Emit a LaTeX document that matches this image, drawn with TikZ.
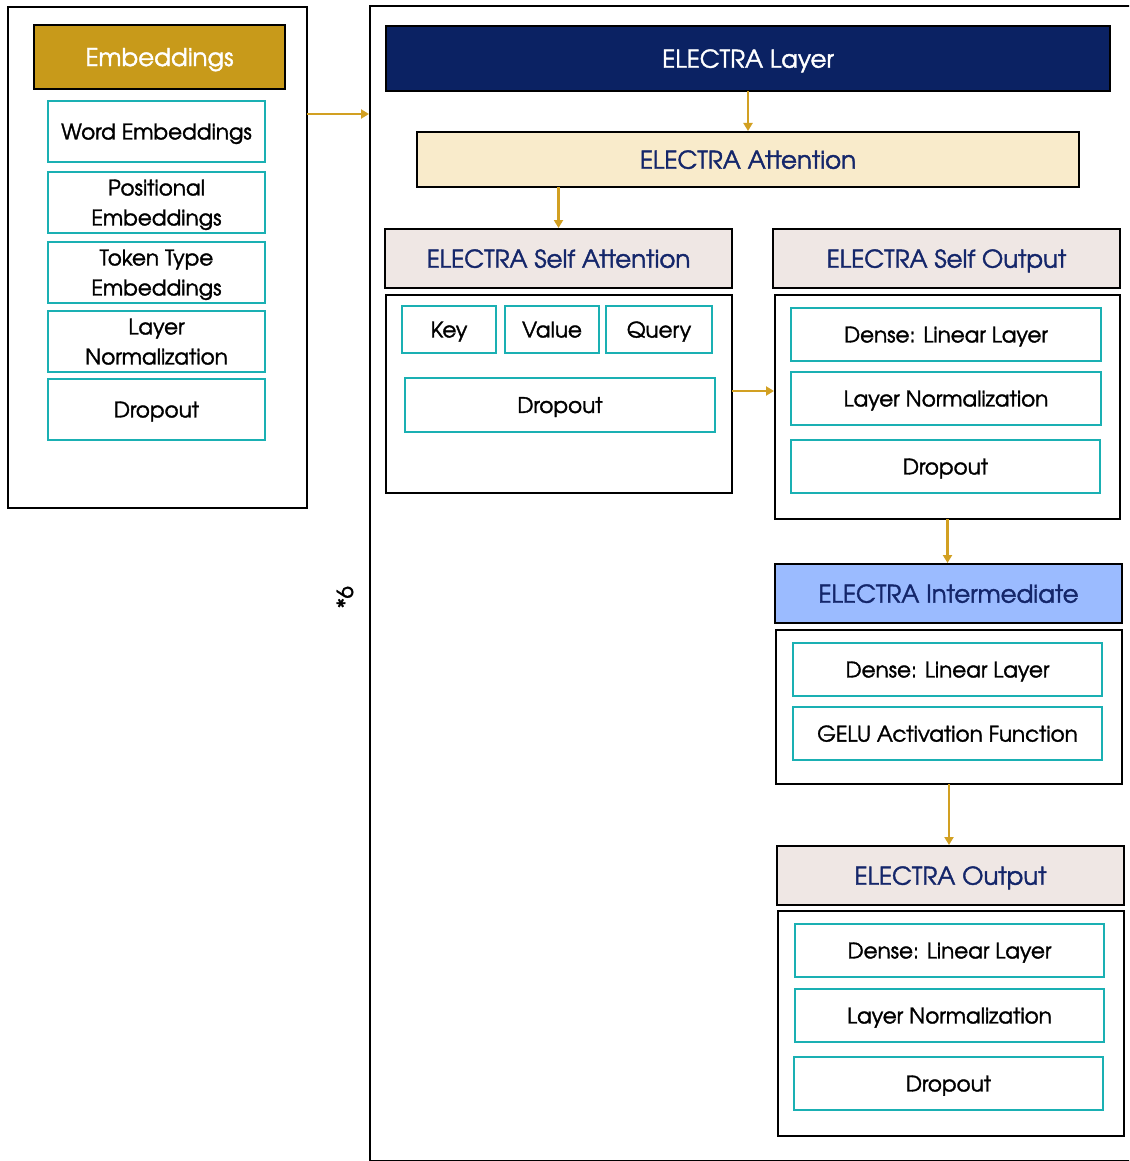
\documentclass[tikz,border=0pt]{standalone}
\usepackage{fontspec}
\setmainfont{TeX Gyre Adventor}[FakeBold=1.6]
\usetikzlibrary{arrows.meta,calc}
\definecolor{gold}{HTML}{C89A1A}
\definecolor{arrgold}{HTML}{D2A022}
\definecolor{navy}{HTML}{0B2263}
\definecolor{navytext}{HTML}{14266A}
\definecolor{cream}{HTML}{F9EBCB}
\definecolor{hdrgrey}{HTML}{EFE7E4}
\definecolor{ltblue}{HTML}{9BBBFF}
\definecolor{teal}{HTML}{1AB0B3}
\newcommand\bx[7]{\node[#6, minimum width={#4-#2}, minimum height={#5-#3}] (#1) at ({(#2+#4)/2},{(#3+#5)/2}) {#7};}
\tikzset{
  base/.style={inner sep=0pt, outer sep=0pt, rectangle, align=center},
  frame/.style={base, draw=black, line width=2.6pt, fill=white},
  tealbox/.style={base, draw=teal, line width=2.8pt, fill=white, font=\fontsize{21.5}{30}\selectfont, text=black, text depth=0pt},
  hdr/.style={base, draw=black, line width=2.6pt, font=\fontsize{24.5}{28}\selectfont, text=navytext, text depth=0pt},
  arr/.style={draw=arrgold, line width=2.8pt, -{Triangle[length=8pt,width=9pt]}, shorten >=1pt},
}
\begin{document}
\begin{tikzpicture}[x=1pt,y=-1pt]
\useasboundingbox (0,0) rectangle (1129,1161);
\begin{scope}
\clip (0,0) rectangle (1129,1161);
% big right frame
\bx{frameR}{370}{6}{1160}{1161}{frame}{}
\end{scope}
% left frame
\bx{frameL}{8}{7}{307}{508}{frame}{}
\bx{emb}{34}{25}{285}{89}{hdr,fill=gold,text=white}{Embeddings}
\bx{we}{48}{101}{265}{162}{tealbox}{Word Embeddings}
\bx{pe}{48}{172}{265}{233}{tealbox}{Positional\\Embeddings}
\bx{tt}{48}{242}{265}{303}{tealbox}{Token Type\\Embeddings}
\bx{ln}{48}{311}{265}{372}{tealbox}{Layer\\Normalization}
\bx{dr}{48}{379}{265}{440}{tealbox}{Dropout}
% repetition label
\node[base, rotate=90, font=\fontsize{22}{24}\selectfont] (rep) at (345,597) {*6};
% electra layer
\bx{layer}{386}{26}{1110}{91}{hdr,fill=navy,text=white}{ELECTRA Layer}
\bx{attn}{417}{132}{1079}{187}{hdr,fill=cream}{ELECTRA Attention}
% self attention
\bx{sah}{385}{229}{732}{288}{hdr,fill=hdrgrey}{ELECTRA Self Attention}
\bx{sab}{386}{295}{732}{493}{frame}{}
\bx{key}{402}{306}{496}{353}{tealbox}{Key}
\bx{val}{505}{306}{599}{353}{tealbox}{Value}
\bx{qry}{606}{306}{712}{353}{tealbox}{Query}
\bx{sadr}{405}{378}{715}{432}{tealbox}{Dropout}
% self output
\bx{soh}{773}{229}{1120}{288}{hdr,fill=hdrgrey}{ELECTRA Self Output}
\bx{sob}{775}{295}{1120}{519}{frame}{}
\bx{sod}{791}{308}{1101}{361}{tealbox}{Dense: Linear Layer}
\bx{soln}{791}{372}{1101}{425}{tealbox}{Layer Normalization}
\bx{sodr}{791}{440}{1100}{493}{tealbox}{Dropout}
% intermediate
\bx{imh}{775}{564}{1122}{623}{hdr,fill=ltblue}{ELECTRA Intermediate}
\bx{imb}{776}{630}{1122}{784}{frame}{}
\bx{imd}{793}{643}{1102}{696}{tealbox}{Dense: Linear Layer}
\bx{img}{793}{707}{1102}{760}{tealbox}{GELU Activation Function}
% output
\bx{outh}{777}{846}{1124}{905}{hdr,fill=hdrgrey}{ELECTRA Output}
\bx{outb}{778}{911}{1124}{1136}{frame}{}
\bx{outd}{795}{924}{1104}{977}{tealbox}{Dense: Linear Layer}
\bx{outln}{795}{989}{1104}{1042}{tealbox}{Layer Normalization}
\bx{outdr}{794}{1057}{1103}{1110}{tealbox}{Dropout}
% connectors
\coordinate (y1) at (0,114);
\coordinate (y2) at (0,391);
\draw[arr] (frameL.east |- y1) -- (frameR.west |- y1);
\draw[arr] (layer.south) -- (attn.north);
\draw[arr] (attn.south -| sah.north) -- (sah.north);
\draw[arr] (sab.east |- y2) -- (sob.west |- y2);
\draw[arr] (sob.south) -- (sob.south |- imh.north);
\draw[arr] (imb.south) -- (imb.south |- outh.north);
\end{tikzpicture}
\end{document}
